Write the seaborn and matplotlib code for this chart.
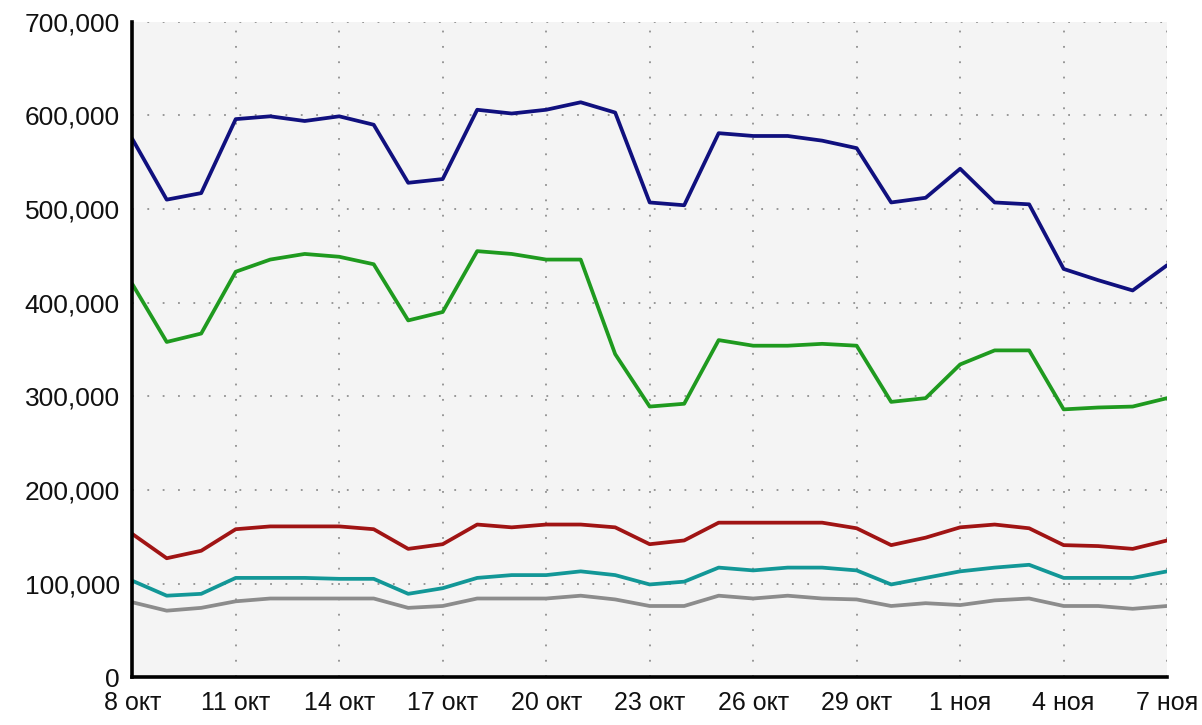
import numpy as np
import pandas as pd
import matplotlib
matplotlib.use("Agg")
import matplotlib.pyplot as plt
from matplotlib.ticker import FuncFormatter
import seaborn as sns

# daily values (thousands), 8 окт .. 7 ноя
blue = [575, 510, 517, 596, 599, 594, 599, 590, 528, 532, 606, 602, 606, 614, 603,
        507, 504, 581, 578, 578, 573, 565, 507, 512, 543, 507, 505, 436, 424, 413, 440]
green = [420, 358, 367, 433, 446, 452, 449, 441, 381, 390, 455, 452, 446, 446, 345,
         289, 292, 360, 354, 354, 356, 354, 294, 298, 334, 349, 349, 286, 288, 289, 298]
red = [153, 127, 135, 158, 161, 161, 161, 158, 137, 142, 163, 160, 163, 163, 160,
       142, 146, 165, 165, 165, 165, 159, 141, 149, 160, 163, 159, 141, 140, 137, 146]
teal = [103, 87, 89, 106, 106, 106, 105, 105, 89, 95, 106, 109, 109, 113, 109,
        99, 102, 117, 114, 117, 117, 114, 99, 106, 113, 117, 120, 106, 106, 106, 113]
gray = [80, 71, 74, 81, 84, 84, 84, 84, 74, 76, 84, 84, 84, 87, 83,
        76, 76, 87, 84, 87, 84, 83, 76, 79, 77, 82, 84, 76, 76, 73, 76]

tick_labels = ["8 окт", "11 окт", "14 окт", "17 окт", "20 окт", "23 окт",
               "26 окт", "29 окт", "1 ноя", "4 ноя", "7 ноя"]

series = {"s1": blue, "s2": green, "s3": red, "s4": teal, "s5": gray}
colors = {"s1": "#10107e", "s2": "#1f9a1f", "s3": "#a01414", "s4": "#129797", "s5": "#8c8c8c"}

rows = []
for name, vals in series.items():
    for i, v in enumerate(vals):
        rows.append({"day": i, "value": v * 1000, "series": name})
df = pd.DataFrame(rows)

sns.set_style("white")
plt.rcParams["font.family"] = ["Liberation Sans", "DejaVu Sans"]

fig = plt.figure(figsize=(12.02, 7.25), dpi=100)
ax = fig.add_axes([0.11, 0.066, 0.861, 0.904])
ax.set_facecolor("#f4f4f4")

sns.lineplot(data=df, x="day", y="value", hue="series", palette=colors,
             linewidth=2.7, legend=False, ax=ax)

ax.set_xlim(0, 30)
ax.set_ylim(0, 700000)
ax.set_xticks(np.arange(0, 31, 3))
ax.set_xticklabels(tick_labels)
ax.set_yticks(np.arange(0, 700001, 100000))
ax.yaxis.set_major_formatter(FuncFormatter(lambda v, p: f"{int(v):,}"))
ax.set_xlabel("")
ax.set_ylabel("")

ax.grid(True, color="#909090", linestyle=(0, (1, 7.5)), linewidth=1.3)
ax.set_axisbelow(True)

for s in ["top", "right"]:
    ax.spines[s].set_visible(False)
for s in ["left", "bottom"]:
    ax.spines[s].set_color("black")
    ax.spines[s].set_linewidth(2.6)

ax.tick_params(axis="both", direction="out", length=7, width=2, color="black",
               labelsize=19, labelcolor="#111111", pad=2)
ax.tick_params(axis="x", pad=3, labelsize=18)

fig.savefig("out.png", dpi=100)
